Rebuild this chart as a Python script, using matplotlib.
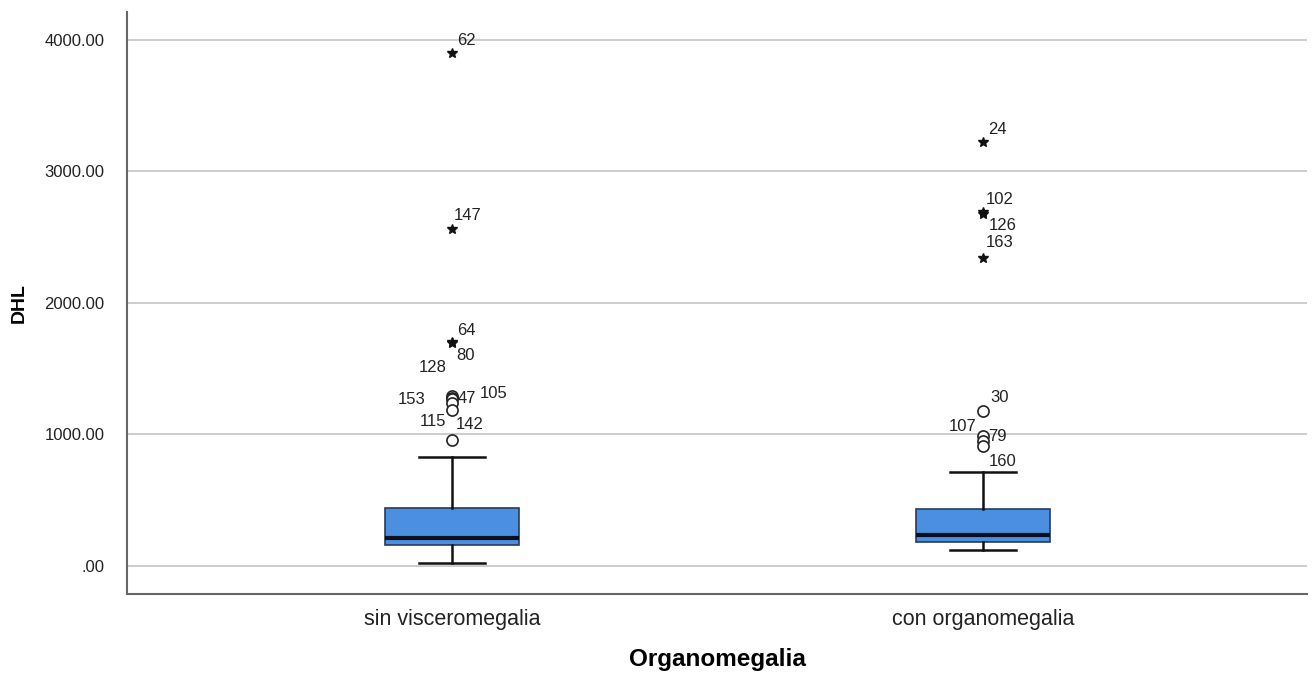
import matplotlib
matplotlib.use("Agg")
import matplotlib.pyplot as plt

plt.rcParams['font.family'] = ['Liberation Sans', 'DejaVu Sans']

# Groups
categories = ["sin visceromegalia", "con organomegalia"]

# Five-number summaries (DHL)
whisker_low = [23, 122]
q1 = [160, 182]
median = [213, 236]
q3 = [441, 433]
whisker_high = [829, 715]

# Outliers: value, case id, kind ('o' = outlier, '*' = extreme)
out1_values = [3901, 2563, 1703, 1693, 1290, 1280, 1270, 1240, 1186, 958]
out1_ids = ["62", "147", "64", "80", "128", "153", "47", "105", "115", "142"]
out1_kind = ["*", "*", "*", "*", "o", "o", "o", "o", "o", "o"]

out2_values = [3225, 2692, 2677, 2342, 1179, 990, 948, 910]
out2_ids = ["24", "102", "126", "163", "30", "107", "79", "160"]
out2_kind = ["*", "*", "*", "*", "o", "o", "o", "o"]

yticks = [0, 1000, 2000, 3000, 4000]
ytick_labels = [".00", "1000.00", "2000.00", "3000.00", "4000.00"]

# label offsets in points (dx, dy) and horizontal alignment
lab1 = [(4, 9, "left"), (1, 10, "left"), (4, 8, "left"), (3, -9, "left"),
        (-4, 21, "right"), (-19, -1, "right"), (4, 0, "left"), (20, 7, "left"),
        (-4, -8, "right"), (3, 11.5, "left")]
lab2 = [(4, 9, "left"), (2, 9, "left"), (4, -8, "left"), (2, 11, "left"),
        (5, 10, "left"), (-5, 7, "right"), (4, 3.5, "left"), (4, -11, "left")]

fig = plt.figure(figsize=(13.13, 6.77), dpi=100)
ax = fig.add_axes([0.0967, 0.1226, 0.8987, 0.8597])

positions = [1, 2]
stats = []
for i, c in enumerate(categories):
    stats.append(dict(label=c, whislo=whisker_low[i], q1=q1[i], med=median[i],
                      q3=q3[i], whishi=whisker_high[i], fliers=[]))

ax.bxp(stats, positions=positions, widths=0.254, patch_artist=True,
       showfliers=False, capwidths=0.126,
       boxprops=dict(facecolor="#4b8fe0", edgecolor="#283c5c", linewidth=1.2),
       medianprops=dict(color="#0a0f1e", linewidth=3),
       whiskerprops=dict(color="#111111", linewidth=1.8),
       capprops=dict(color="#111111", linewidth=1.8), zorder=3)

for pos, vals, ids, kinds, labs in [(1, out1_values, out1_ids, out1_kind, lab1),
                                    (2, out2_values, out2_ids, out2_kind, lab2)]:
    for v, cid, k, (dx, dy, ha) in zip(vals, ids, kinds, labs):
        if k == "o":
            ax.plot(pos, v, marker="o", markersize=8, markerfacecolor="white",
                    markeredgecolor="#222222", markeredgewidth=1.2, zorder=4)
        else:
            ax.plot(pos, v, marker="*", markersize=7, color="#111111", zorder=4)
        ax.annotate(cid, (pos, v), xytext=(dx, dy), textcoords="offset points",
                    ha=ha, va="center", fontsize=12, color="#222222", zorder=5)

ax.set_xlim(0.388, 2.61)
ax.set_ylim(-213, 4213)
ax.set_yticks(yticks)
ax.set_yticklabels(ytick_labels)
ax.set_xticks(positions)
ax.set_xticklabels(categories)
ax.tick_params(axis="y", length=0, pad=16, labelsize=12, labelcolor="#222222")
ax.tick_params(axis="x", length=0, pad=11, labelsize=15.5, labelcolor="#222222")

ax.yaxis.grid(True, color="#c4c4c4", linewidth=1.2)
ax.set_axisbelow(True)
for s in ["top", "right"]:
    ax.spines[s].set_visible(False)
for s in ["left", "bottom"]:
    ax.spines[s].set_color("#666666")
    ax.spines[s].set_linewidth(1.5)

ax.set_xlabel("Organomegalia", fontsize=17.5, fontweight="bold", labelpad=13)
ax.set_ylabel("DHL", fontsize=14, fontweight="bold", labelpad=12)

fig.savefig("out.png", dpi=100, facecolor="white")
